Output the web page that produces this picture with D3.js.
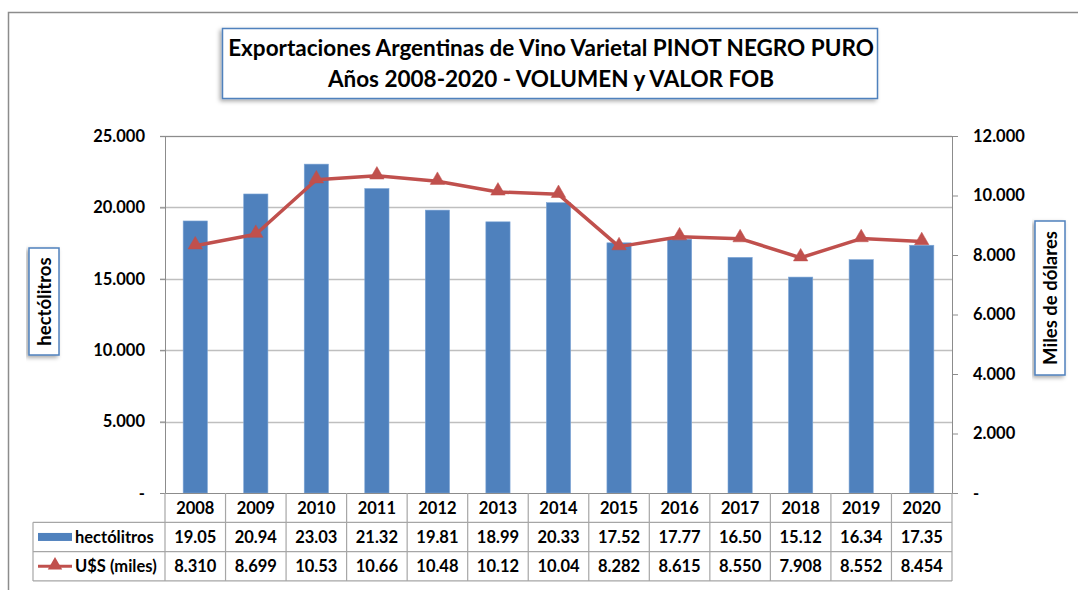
<!DOCTYPE html>
<html><head><meta charset="utf-8">
<script src="https://cdn.jsdelivr.net/npm/d3@7"></script>
<style>body{margin:0;background:#fff;} svg{display:block;} text{font-family:Lato,"Open Sans",sans-serif;font-weight:bold;fill:#000;}</style>
</head><body>
<svg id="c" width="1078" height="590"></svg>
<script>
const years = ["2008","2009","2010","2011","2012","2013","2014","2015","2016","2017","2018","2019","2020"];
const hectolitros = [19050,20940,23030,21320,19810,18990,20330,17520,17770,16500,15120,16340,17350];
const usdMiles = [8310,8699,10530,10660,10480,10120,10040,8282,8615,8550,7908,8552,8454];
const hlLabels = ["19.05","20.94","23.03","21.32","19.81","18.99","20.33","17.52","17.77","16.50","15.12","16.34","17.35"];
const usdLabels = ["8.310","8.699","10.53","10.66","10.48","10.12","10.04","8.282","8.615","8.550","7.908","8.552","8.454"];
const leftTicks = [0,5000,10000,15000,20000,25000];
const rightTicks = [0,2000,4000,6000,8000,10000,12000];
const titleLines = ["Exportaciones Argentinas de Vino Varietal PINOT NEGRO PURO","Años 2008-2020 - VOLUMEN y VALOR FOB"];
const seriesNames = ["hectólitros","U$S (miles)"];

const svg = d3.select("#c");
const L=165, R=952, T=136, B=493;
const blue="#4F81BD", red="#C0504D", grid="#BFBFBF", axisC="#8C8C8C";
const fmt = v => v===0 ? "-" : d3.format(",")(v).replace(/,/g,".");
const FS = 16.5;

const defs = svg.append("defs");
const f = defs.append("filter").attr("id","sh").attr("x","-10%").attr("y","-20%").attr("width","130%").attr("height","150%");
f.append("feDropShadow").attr("dx",-2).attr("dy",2).attr("stdDeviation",2).attr("flood-color","#000").attr("flood-opacity",0.35);

// outer chart border
svg.append("rect").attr("x",8.5).attr("y",12.5).attr("width",1200).attr("height",700).attr("fill","#fff").attr("stroke","#8c8c8c").attr("stroke-width",1.5);

const x = d3.scaleBand().domain(years).range([L,R]).paddingInner(0.6).paddingOuter(0.3);
const xc = d3.scaleBand().domain(years).range([L,R]);
const yL = d3.scaleLinear().domain([0,25000]).range([B,T]);
const yR = d3.scaleLinear().domain([0,12000]).range([B,T]);

// gridlines
svg.append("g").selectAll("line").data(leftTicks.filter(d=>d>0)).join("line")
  .attr("x1",L-5).attr("x2",R).attr("y1",d=>Math.round(yL(d))+0.5).attr("y2",d=>Math.round(yL(d))+0.5)
  .attr("stroke",grid).attr("stroke-width",1.3);
// plot border
svg.append("rect").attr("x",L+0.5).attr("y",T+0.5).attr("width",R-L).attr("height",B-T).attr("fill","none").attr("stroke",axisC).attr("stroke-width",1);

// bars
svg.append("g").selectAll("rect").data(years).join("rect")
  .attr("x",d=>x(d)).attr("width",x.bandwidth())
  .attr("y",(d,i)=>yL(hectolitros[i])).attr("height",(d,i)=>B-yL(hectolitros[i]))
  .attr("fill",blue).attr("stroke","#7ea6d6").attr("stroke-width",0.6);

// left axis
const gl = svg.append("g").attr("transform",`translate(${L},0)`)
  .call(d3.axisLeft(yL).tickValues(leftTicks).tickFormat(fmt).tickSize(5).tickPadding(15));
gl.select(".domain").attr("stroke",axisC);
gl.selectAll(".tick line").attr("stroke",axisC);
gl.selectAll("text").attr("font-size",FS).attr("font-family","Lato").attr("font-weight","bold").attr("fill","#000");
// right axis
const gr = svg.append("g").attr("transform",`translate(${R},0)`)
  .call(d3.axisRight(yR).tickValues(rightTicks).tickFormat(fmt).tickSize(6).tickPadding(15));
gr.select(".domain").attr("stroke",axisC);
gr.selectAll(".tick line").attr("stroke",axisC);
gr.selectAll("text").attr("font-size",FS).attr("font-family","Lato").attr("font-weight","bold").attr("fill","#000");
// bottom tick extension
svg.append("line").attr("x1",L).attr("x2",R+6).attr("y1",B+0.5).attr("y2",B+0.5).attr("stroke",axisC);

// line
const line = d3.line().x((d,i)=>xc(years[i])+xc.bandwidth()/2).y(d=>yR(d));
svg.append("path").datum(usdMiles).attr("d",line).attr("fill","none").attr("stroke",red).attr("stroke-width",3.5).attr("stroke-linejoin","round");
const tri = d3.symbol().type(d3.symbolTriangle).size(90);
svg.append("g").selectAll("path").data(usdMiles).join("path")
  .attr("d",tri).attr("transform",(d,i)=>`translate(${xc(years[i])+xc.bandwidth()/2},${yR(d)-1})`)
  .attr("fill",red).attr("stroke",red).attr("stroke-width",0.5);

// data table
const rowH=29.3, t0=B, tl=33;
const tbl = svg.append("g");
const gridStroke = "#A6A6A6";
[1,2,3].forEach(k=>{
  tbl.append("line").attr("x1",tl).attr("x2",R).attr("y1",t0+k*rowH).attr("y2",t0+k*rowH).attr("stroke",gridStroke).attr("stroke-width",1.2);
});
tbl.append("line").attr("x1",tl).attr("x2",tl).attr("y1",t0+rowH).attr("y2",t0+3*rowH).attr("stroke",gridStroke).attr("stroke-width",1.2);
years.forEach(y=>{
  tbl.append("line").attr("x1",xc(y)).attr("x2",xc(y)).attr("y1",t0).attr("y2",t0+3*rowH).attr("stroke",gridStroke).attr("stroke-width",1.2);
});
tbl.append("line").attr("x1",R).attr("x2",R).attr("y1",t0).attr("y2",t0+3*rowH).attr("stroke",gridStroke).attr("stroke-width",1.2);
const cellText = (arr,row)=>tbl.append("g").selectAll("text").data(arr).join("text")
  .attr("x",(d,i)=>xc(years[i])+xc.bandwidth()/2).attr("y",t0+row*rowH+rowH/2+6)
  .attr("text-anchor","middle").attr("font-size",FS).text(d=>d);
cellText(years,0); cellText(hlLabels,1); cellText(usdLabels,2);
// legend keys
tbl.append("rect").attr("x",38).attr("y",t0+rowH+rowH/2-4).attr("width",34).attr("height",8).attr("fill",blue);
tbl.append("line").attr("x1",38).attr("x2",72).attr("y1",t0+2.5*rowH).attr("y2",t0+2.5*rowH).attr("stroke",red).attr("stroke-width",3);
tbl.append("path").attr("d",tri).attr("transform",`translate(55,${t0+2.5*rowH-1})`).attr("fill",red);
seriesNames.forEach((s,i)=>tbl.append("text").attr("x",75).attr("y",t0+(i+1)*rowH+rowH/2+6).attr("font-size",FS).text(s));

// title box
svg.append("rect").attr("x",222.5).attr("y",28.5).attr("width",655).attr("height",70).attr("fill","#fff").attr("stroke",blue).attr("stroke-width",1.5).attr("filter","url(#sh)");
titleLines.forEach((t,i)=>svg.append("text").attr("x",551).attr("y",56+i*31).attr("text-anchor","middle").attr("font-size",22.5).text(t));

// axis title boxes
function vbox(cx, y1, y2, w, label){
  svg.append("rect").attr("x",cx-w/2).attr("y",y1).attr("width",w).attr("height",y2-y1).attr("fill","#fff").attr("stroke",blue).attr("stroke-width",1.5).attr("filter","url(#sh)");
  svg.append("text").attr("transform",`translate(${cx+6.5},${(y1+y2)/2}) rotate(-90)`).attr("text-anchor","middle").attr("font-size",18.5).text(label);
}
vbox(44,248,355,30,"hectólitros");
vbox(1050,221,375,30,"Miles de dólares");
</script>
</body></html>
